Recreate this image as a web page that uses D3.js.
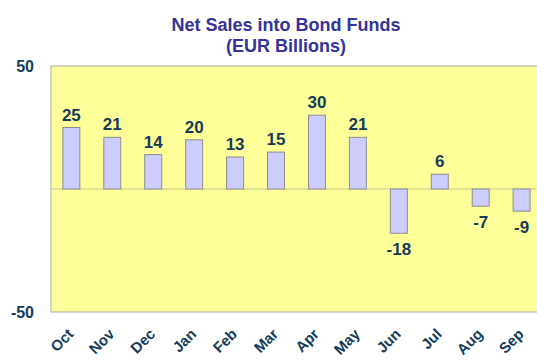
<!DOCTYPE html>
<html><head><meta charset="utf-8">
<script src="https://cdn.jsdelivr.net/npm/d3@7"></script>
<style>body{margin:0;background:#fff;}svg{display:block;font-family:"Liberation Sans",Arial,sans-serif;}</style>
</head><body>
<svg id="c" width="537" height="360"></svg>
<script>
const months = ["Oct","Nov","Dec","Jan","Feb","Mar","Apr","May","Jun","Jul","Aug","Sep"];
const values = [25,21,14,20,13,15,30,21,-18,6,-7,-9];
const yTicks = [50,-50];
const titleLines = ["Net Sales into Bond Funds","(EUR Billions)"];

const svg = d3.select("#c");
const L = 51, R = 542, T = 66, B = 312;
const x = d3.scaleBand().domain(months).range([L, R]).paddingInner(0.585).paddingOuter(0.29);
const y = d3.scaleLinear().domain([-50, 50]).range([B, T]);

svg.append("rect").attr("x", L).attr("y", T).attr("width", R - L).attr("height", B - T)
  .attr("fill", "#ffff99").attr("stroke", "#b8b8a8").attr("stroke-width", 1.2);

svg.append("line").attr("x1", L).attr("x2", R).attr("y1", y(0)).attr("y2", y(0))
  .attr("stroke", "#c8c890").attr("stroke-width", 1.2);

svg.selectAll("rect.bar").data(values).join("rect").attr("class", "bar")
  .attr("x", (d, i) => x(months[i]))
  .attr("width", x.bandwidth())
  .attr("y", d => y(Math.max(0, d)))
  .attr("height", d => Math.abs(y(d) - y(0)))
  .attr("fill", "#ccccff").attr("stroke", "#8c8c8c").attr("stroke-width", 1);

svg.selectAll("text.val").data(values).join("text").attr("class", "val")
  .attr("x", (d, i) => x(months[i]) + x.bandwidth() / 2)
  .attr("y", d => d >= 0 ? y(d) - 7 : y(d) + 22)
  .attr("text-anchor", "middle").attr("font-size", 17).attr("font-weight", "bold")
  .attr("fill", "#143c5a").text(d => d);

svg.selectAll("text.yt").data(yTicks).join("text").attr("class", "yt")
  .attr("x", 34).attr("y", d => y(d) + 6)
  .attr("text-anchor", "end").attr("font-size", 16).attr("font-weight", "bold")
  .attr("fill", "#143c5a").text(d => d);

svg.selectAll("text.xl").data(months).join("text").attr("class", "xl")
  .attr("transform", d => `translate(${x(d) + x.bandwidth() / 2 + 3},${B + 23}) rotate(-45)`)
  .attr("text-anchor", "end").attr("font-size", 15).attr("font-weight", "bold")
  .attr("fill", "#143c5a").text(d => d);

svg.selectAll("text.title").data(titleLines).join("text").attr("class", "title")
  .attr("x", 286).attr("y", (d, i) => 31 + i * 21)
  .attr("text-anchor", "middle").attr("font-size", 18).attr("font-weight", "bold")
  .attr("fill", "#333399").text(d => d);
</script>
</body></html>
